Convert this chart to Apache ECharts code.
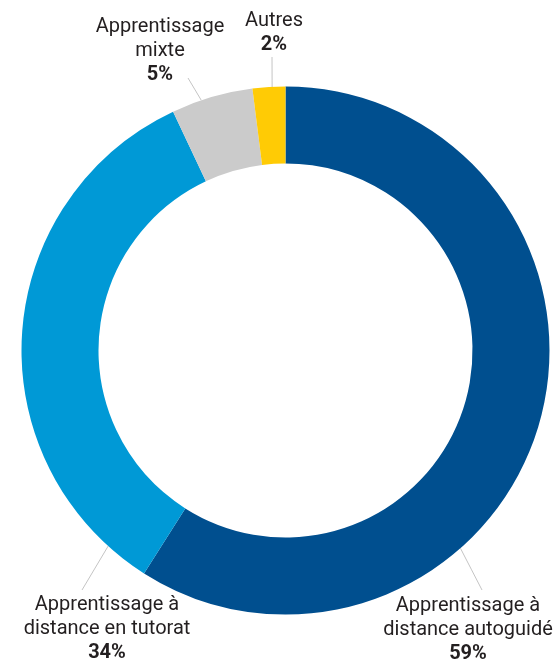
<!DOCTYPE html>
<html>
<head>
<meta charset="utf-8">
<script src="https://cdn.jsdelivr.net/npm/echarts@6/dist/echarts.min.js"></script>
<style>
  html, body { margin: 0; padding: 0; background: #ffffff; }
  #chart { width: 558px; height: 664px; }
</style>
</head>
<body>
<div id="chart"></div>
<script>
// Répartition des modes d'apprentissage (%)
const categories = [
  'Apprentissage à\ndistance autoguidé',
  'Apprentissage à\ndistance en tutorat',
  'Apprentissage\nmixte',
  'Autres'
];
const shares = [59, 34, 5, 2];
const sliceColors = ['#004f8f', '#0099d6', '#cbcbcb', '#ffcb05'];

// Centre of each label block, in pixels
const labelSpots = [
  [468, 630],
  [107, 629],
  [160, 51],
  [274, 33]
];
// Where each leader line meets the ring: angle clockwise from 12 o'clock (deg)
// and how far inside the outer edge it stops (px)
const leaderAngles = [138.5, 222.2, 341.4, 356.9];
const leaderInset = [0, 0, 0, 18];
// Free end of each leader line, relative to its label centre
const leaderEnds = [[14, -40], [-25, -39], [28, 27], [-2, 24]];

const CENTER = [285.5, 350.5];
const RADII = [187, 264];

const chart = echarts.init(document.getElementById('chart'), null, { renderer: 'canvas' });

function ringPoint(deg, r) {
  const a = deg * Math.PI / 180;
  return [CENTER[0] + r * Math.sin(a), CENTER[1] - r * Math.cos(a)];
}

chart.setOption({
  animation: false,
  series: [{
    type: 'pie',
    center: CENTER,
    radius: RADII,
    startAngle: 90,
    clockwise: true,
    avoidLabelOverlap: false,
    data: categories.map((name, i) => ({
      name: name,
      value: shares[i],
      itemStyle: { color: sliceColors[i] }
    })),
    itemStyle: { borderWidth: 0 },
    emphasis: { disabled: true },
    label: {
      show: true,
      position: 'outside',
      formatter: p => '{n|' + p.name.split('\n').join('}\n{n|') + '}\n{v|' + p.value + '%}',
      rich: {
        n: {
          fontFamily: 'Roboto, "Liberation Sans", sans-serif',
          fontSize: 20,
          lineHeight: 24,
          color: '#231f20',
          align: 'center'
        },
        v: {
          fontFamily: 'Roboto, "Liberation Sans", sans-serif',
          fontSize: 20,
          fontWeight: 'bold',
          lineHeight: 24,
          color: '#231f20',
          align: 'center'
        }
      }
    },
    labelLine: {
      show: true,
      showAbove: true,
      length: 10,
      length2: 0,
      lineStyle: { color: '#c4c4c4', width: 1 }
    },
    labelLayout: params => {
      const i = params.dataIndex;
      const spot = labelSpots[i];
      const onRing = ringPoint(leaderAngles[i], RADII[1] - leaderInset[i]);
      const free = [spot[0] + leaderEnds[i][0], spot[1] + leaderEnds[i][1]];
      const mid = [(onRing[0] + free[0]) / 2, (onRing[1] + free[1]) / 2];
      return {
        x: spot[0],
        y: spot[1],
        align: 'center',
        verticalAlign: 'middle',
        labelLinePoints: [onRing, mid, free]
      };
    }
  }]
});
</script>
</body>
</html>
